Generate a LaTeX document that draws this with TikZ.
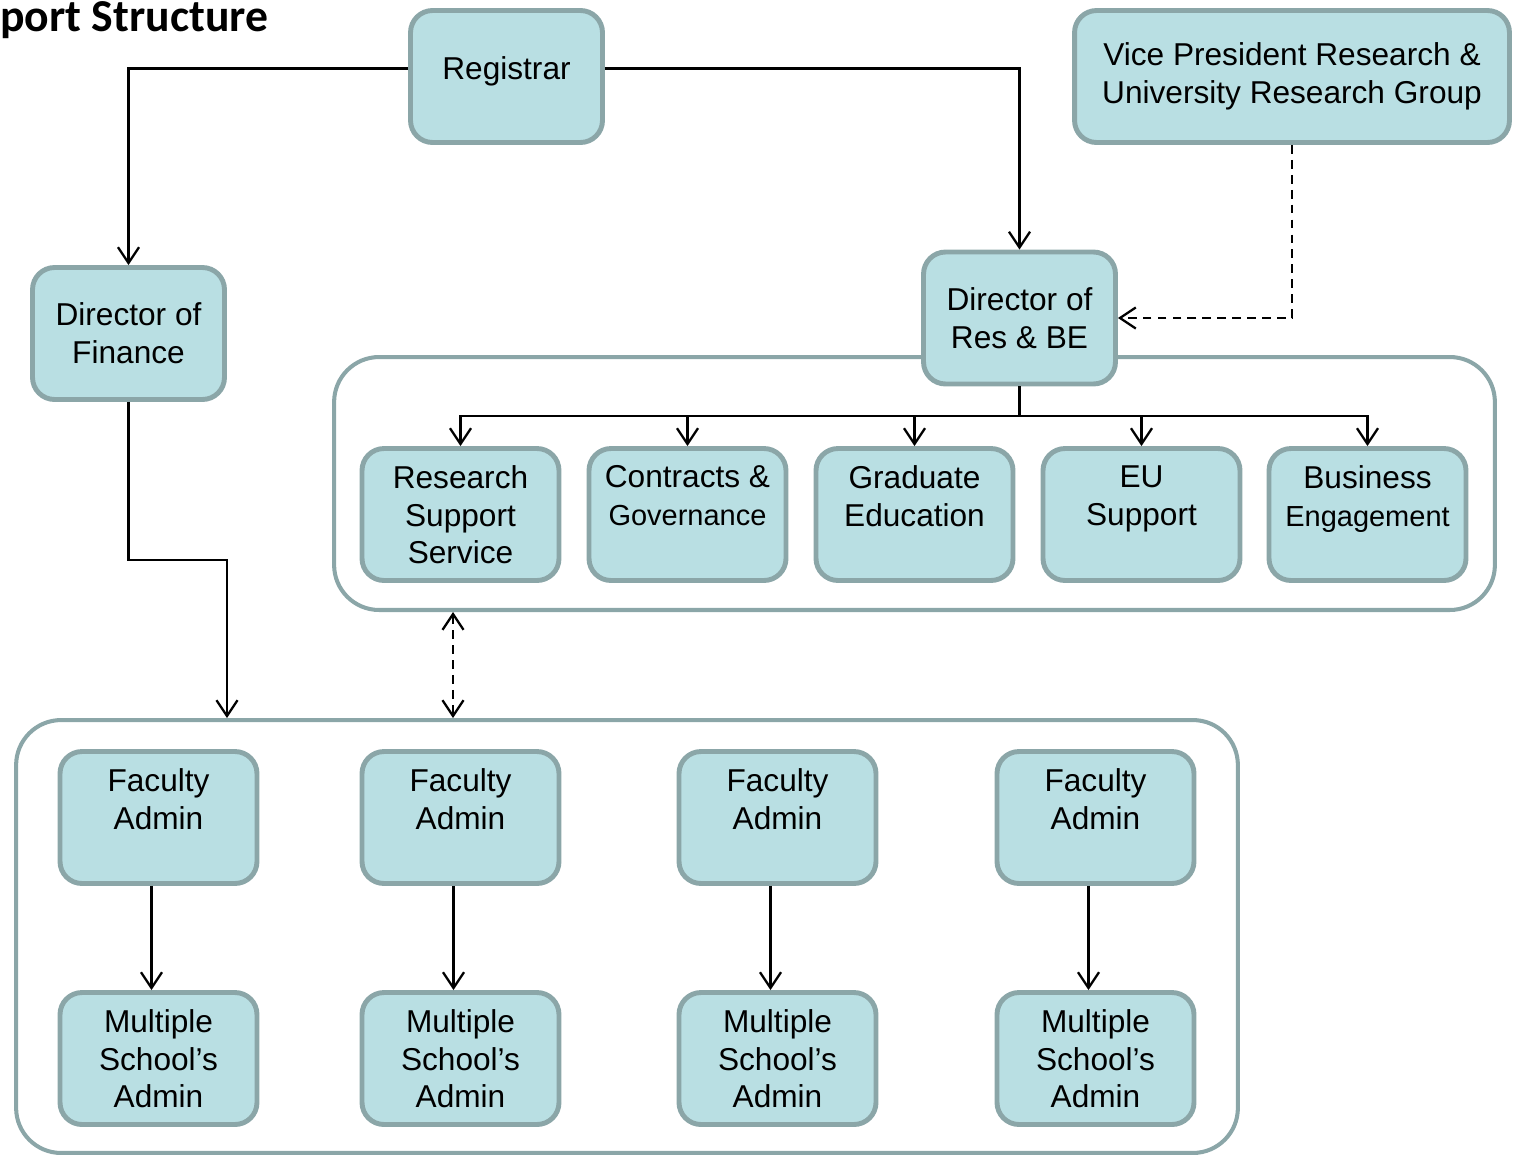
\documentclass[tikz,border=0pt]{standalone}
\usepackage{fontspec}
\setmainfont{Liberation Sans}
\newfontfamily\titlefont{Carlito}
\usetikzlibrary{arrows.meta}
\definecolor{boxfill}{RGB}{185,223,227}
\definecolor{boxline}{RGB}{139,166,168}
\newcommand{\toptext}[1]{\parbox[c][1.96cm][t]{3.8cm}{\centering #1}}
\newcommand{\smalltext}[1]{{\fontsize{16.5}{20}\selectfont #1}}

\begin{document}
\begin{tikzpicture}[x=0.02cm,y=-0.02cm,
  >={Straight Barb[length=9pt,width=12pt]},
  box/.style={draw=boxline,fill=boxfill,line width=2.8pt,rounded corners=0.44cm,
    minimum width=3.84cm,minimum height=2.64cm,align=center,inner sep=2pt,
    font=\fontsize{18}{21.5}\selectfont},
  group/.style={draw=boxline,line width=2.3pt,rounded corners=0.9cm},
  arr/.style={line width=1.3pt,->},
  dashline/.style={dash pattern=on 5pt off 3.5pt}]
\useasboundingbox (0,0) rectangle (1518,1157);

\node[font=\titlefont\bfseries\fontsize{26}{30}\selectfont,anchor=base west,inner sep=0] (title) at (0,31) {port Structure};

\node[group,minimum width=23.22cm,minimum height=5.06cm] (resgroup) at (914.5,483.5) {};
\node[group,minimum width=24.44cm,minimum height=8.66cm] (facgroup) at (627,936.5) {};

\node[box] (reg) at (506.5,76.5) {\raisebox{0.32cm}{Registrar}};
\node[box,minimum width=8.7cm] (vp) at (1292,76.5) {Vice President Research \&\\University Research Group};
\node[box] (fin) at (128.5,333.5) {Director of\\Finance};
\node[box] (resbe) at (1019.5,318) {Director of\\Res \& BE};

\node[box] (rss) at (460.5,514.5) {\toptext{Research\\Support\\Service}};
\node[box] (cg) at (687.5,514.5) {\toptext{Contracts \&\\\smalltext{Governance}}};
\node[box] (ge) at (914.5,514.5) {\toptext{Graduate\\Education}};
\node[box] (eu) at (1141.5,514.5) {\toptext{EU\\Support}};
\node[box] (bus) at (1367.5,514.5) {\toptext{Business\\\smalltext{Engagement}}};

\foreach \i/\x in {1/158.5,2/460.5,3/777.5,4/1095.5}{
  \node[box] (fac\i) at (\x,817.5) {\toptext{Faculty\\Admin}};
  \node[box] (sch\i) at (\x,1058.5) {\toptext{Multiple\\School’s\\Admin}};
  \draw[arr] ([xshift=-0.14cm]fac\i.south) -- ([xshift=-0.14cm]sch\i.north);
}

\coordinate (bar) at (0,416);
\coordinate (finbend) at (227,560);
\coordinate (link) at (453,0);

\draw[arr] ([yshift=0.16cm]reg.west) -| (fin.north);
\draw[arr] ([yshift=0.16cm]reg.east) -| (resbe.north);
\draw[arr,dashline] (vp.south) |- (resbe.east);
\foreach \n in {rss,cg,ge,eu,bus}
  \draw[arr] (resbe.south) -- (resbe.south |- bar) -| (\n.north);
\draw[arr] (fin.south) |- (finbend) -- (finbend |- facgroup.north);
\draw[arr,dashline,<->] (link |- resgroup.south) -- (link |- facgroup.north);

\end{tikzpicture}
\end{document}
